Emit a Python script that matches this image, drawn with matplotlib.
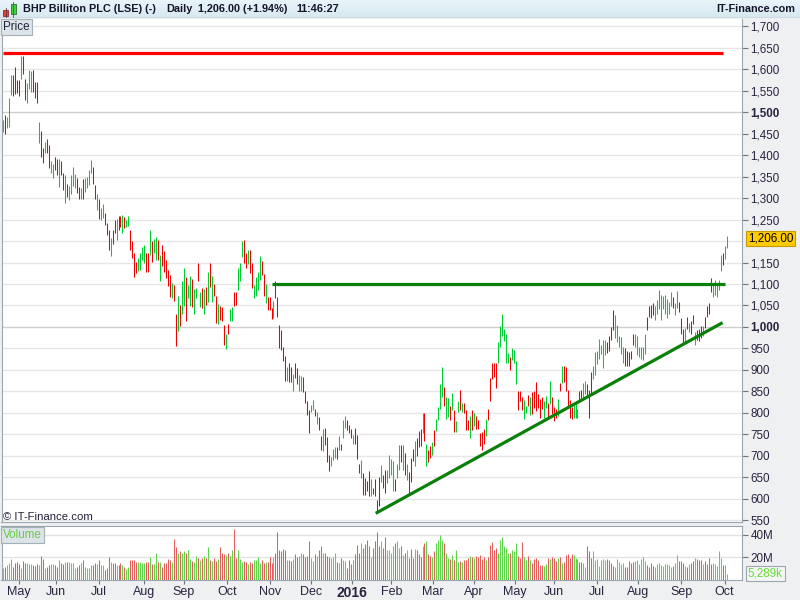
"""
BHP Billiton PLC (LSE) daily bar chart, Apr 2015 - Oct 2016, with volume
panel and three hand-drawn support/resistance lines (IT-Finance style).
"""

import numpy as np
import pandas as pd
import matplotlib
matplotlib.use("Agg")
import matplotlib.pyplot as plt
from matplotlib.patches import Rectangle

W, H = 800, 600
plt.rcParams["font.family"] = ["Liberation Sans", "DejaVu Sans"]

# ---- data -------------------------------------------------------------------
# daily bar high / low (pence) and direction (g = up bar, r = down bar)
HIGH = [
    1483, 1493, 1488, 1532, 1586, 1586, 1605, 1574, 1576, 1630,
    1632, 1578, 1567, 1598, 1596, 1598, 1570, 1570, 1478, 1457,
    1416, 1431, 1438, 1423, 1387, 1379, 1396, 1391, 1391, 1387,
    1358, 1354, 1333, 1328, 1354, 1373, 1356, 1346, 1327, 1323,
    1344, 1346, 1350, 1365, 1389, 1373, 1330, 1310, 1299, 1278,
    1286, 1266, 1241, 1225, 1207, 1226, 1249, 1251, 1259, 1259,
    1261, 1257, 1249, 1259, 1226, 1199, 1173, 1152, 1160, 1172,
    1187, 1191, 1172, 1172, 1226, 1199, 1204, 1209, 1203, 1168,
    1191, 1176, 1155, 1133, 1121, 1102, 1098, 1029, 1073, 1050,
    1108, 1137, 1116, 1098, 1119, 1111, 1088, 1090, 1150, 1081,
    1090, 1088, 1093, 1127, 1150, 1118, 1101, 1073, 1054, 1048,
    1046, 1005, 984, 1008, 1042, 1046, 1081, 1081, 1137, 1150,
    1199, 1203, 1172, 1178, 1178, 1149, 1098, 1116, 1127, 1166,
    1153, 1124, 1101, 1070, 1070, 1043, 1061, 1106, 1069, 1005,
    993, 954, 933, 906, 917, 906, 891, 917, 904, 889,
    885, 883, 852, 827, 806, 819, 829, 809, 803, 790,
    745, 762, 765, 744, 703, 697, 716, 721, 721, 745,
    728, 783, 793, 783, 772, 762, 749, 765, 749, 680,
    691, 659, 649, 641, 664, 647, 626, 647, 598, 651,
    678, 656, 668, 667, 703, 693, 688, 647, 680, 726,
    724, 726, 707, 680, 662, 695, 716, 734, 741, 757,
    762, 800, 800, 728, 714, 722, 731, 759, 786, 814,
    868, 906, 860, 836, 835, 817, 846, 806, 780, 827,
    854, 824, 824, 807, 784, 793, 806, 800, 793, 783,
    752, 755, 762, 786, 809, 881, 916, 917, 916, 966,
    1002, 1030, 995, 984, 940, 931, 950, 947, 920, 850,
    852, 837, 830, 817, 842, 838, 848, 852, 871, 845,
    832, 836, 828, 840, 824, 875, 838, 814, 809, 832,
    869, 910, 910, 906, 853, 830, 814, 819, 828, 809,
    852, 853, 869, 873, 866, 853, 894, 910, 941, 945,
    973, 959, 969, 969, 965, 978, 1000, 1039, 1027, 1004,
    980, 977, 953, 952, 944, 941, 944, 983, 983, 978,
    953, 953, 953, 983, 1022, 1048, 1050, 1055, 1048, 1062,
    1086, 1074, 1072, 1074, 1064, 1059, 1082, 1070, 1055, 1084,
    1059, 1020, 996, 998, 1022, 1009, 1014, 1027, 988, 992,
    996, 1002, 1002, 1023, 1048, 1055, 1113, 1098, 1109, 1098,
    1109, 1168, 1173, 1189, 1211,
]
LOW = [
    1454, 1449, 1464, 1466, 1539, 1537, 1543, 1545, 1537, 1578,
    1590, 1528, 1522, 1553, 1547, 1547, 1534, 1522, 1429, 1396,
    1382, 1404, 1404, 1369, 1359, 1346, 1365, 1354, 1327, 1354,
    1320, 1289, 1303, 1296, 1310, 1328, 1323, 1313, 1299, 1299,
    1299, 1315, 1323, 1330, 1358, 1333, 1299, 1272, 1251, 1249,
    1253, 1238, 1214, 1178, 1166, 1193, 1218, 1203, 1226, 1233,
    1218, 1230, 1233, 1234, 1178, 1160, 1116, 1125, 1131, 1133,
    1156, 1150, 1129, 1129, 1168, 1152, 1172, 1156, 1156, 1106,
    1141, 1129, 1114, 1095, 1070, 1068, 1060, 955, 990, 1002,
    1029, 1048, 1015, 1067, 1048, 1046, 1031, 1067, 1106, 1046,
    1044, 1031, 1050, 1058, 1093, 1058, 1073, 1009, 1008, 1017,
    1015, 957, 949, 983, 1015, 1013, 1048, 1052, 1087, 1108,
    1164, 1150, 1137, 1147, 1125, 1091, 1068, 1073, 1087, 1110,
    1122, 1071, 1056, 1039, 1039, 1018, 1020, 1067, 1022, 950,
    947, 920, 875, 873, 871, 871, 850, 881, 868, 850,
    850, 848, 824, 796, 752, 801, 806, 793, 775, 759,
    713, 711, 726, 685, 664, 677, 691, 695, 693, 713,
    714, 742, 765, 761, 753, 742, 728, 728, 693, 659,
    649, 608, 608, 618, 606, 606, 610, 606, 567, 584,
    639, 626, 614, 636, 649, 656, 618, 618, 649, 667,
    685, 667, 655, 644, 614, 639, 688, 676, 699, 721,
    722, 752, 734, 677, 685, 695, 703, 722, 758, 783,
    809, 838, 815, 786, 791, 783, 806, 755, 755, 801,
    807, 801, 800, 759, 759, 742, 759, 769, 762, 762,
    722, 713, 728, 747, 783, 827, 879, 883, 858, 917,
    953, 978, 968, 917, 916, 900, 923, 917, 866, 806,
    827, 807, 786, 800, 815, 796, 797, 811, 805, 812,
    789, 809, 789, 812, 789, 820, 797, 781, 788, 793,
    850, 869, 871, 852, 812, 788, 785, 789, 788, 789,
    828, 834, 836, 844, 840, 789, 844, 879, 887, 914,
    926, 937, 905, 934, 939, 945, 969, 992, 975, 965,
    953, 936, 916, 908, 910, 910, 926, 957, 953, 934,
    931, 926, 923, 937, 994, 1022, 1020, 1027, 1017, 1031,
    1041, 1016, 1041, 1031, 1020, 1031, 1048, 1045, 1027, 1045,
    1035, 984, 961, 965, 996, 988, 984, 1008, 959, 969,
    967, 975, 978, 998, 1023, 1030, 1082, 1070, 1074, 1069,
    1086, 1131, 1145, 1158, 1184,
]
DIRECTION = (
    "grgggrrrrg" "rrgggrrrgr" "rgrrggrrgr" "rgrggggrrg" "rggggrrgrg"
    "grrrgrrgrr" "grggrrrrgg" "ggrrgrggrg" "rrrrrgrrgr" "ggrggrggrg"
    "rgrgrgrrgr" "rrgrggrrgg" "grrgrrgggg" "rrgrrrgrrr" "rrrgrrgrrg"
    "grrrrggrgr" "rgrrrgggrg" "rggrrrgrrr" "grrrrgrrrr" "grrggggrgg"
    "rgrgrrrgrr" "rgrgrrgrgg" "ggrggrgrgg" "rgrrrgrgrr" "rrrgrrrrrg"
    "gggggrgggr" "rrggrgrrrr" "rrggrgrrrg" "rgrrrrrggg" "rrggrrrggg"
    "ggggrrrrgg" "gggrrrrrgg" "ggggrrrrgg" "gggggggrgg" "rrrgrgrrgr"
    "rrgrrrrggg" "ggrgggrrgr" "ggggg"
)
# daily volume, millions of shares (last bar is the intraday 5,289k)
VOLUME_M = [
    10.0, 11.5, 13.0, 14.5, 18.2, 11.5, 14.5, 16.1, 13.9, 10.0,
    16.7, 15.2, 14.5, 13.9, 13.9, 13.0, 12.1, 13.6, 13.0, 21.2,
    18.2, 10.0, 11.5, 13.0, 13.9, 13.6, 13.0, 11.5, 17.6, 14.5,
    13.9, 16.1, 16.1, 16.1, 15.2, 14.5, 10.0, 11.5, 13.0, 14.5,
    17.6, 11.5, 10.0, 10.6, 13.0, 13.0, 14.5, 13.9, 17.6, 13.0,
    13.0, 8.5, 10.0, 20.0, 16.1, 14.5, 14.5, 13.0, 13.0, 14.5,
    13.0, 11.5, 9.1, 11.5, 17.6, 17.6, 17.6, 16.1, 16.1, 16.1,
    15.2, 15.2, 16.1, 16.1, 20.0, 13.9, 13.9, 23.6, 16.1, 16.1,
    11.5, 14.5, 14.5, 18.2, 17.6, 16.1, 36.4, 29.1, 24.2, 25.2,
    23.6, 25.2, 23.6, 26.1, 18.2, 17.0, 16.1, 21.2, 19.1, 17.6,
    19.1, 21.2, 19.1, 29.1, 17.6, 17.0, 19.1, 17.0, 18.2, 29.1,
    24.2, 23.0, 22.1, 23.6, 21.2, 26.7, 45.5, 19.1, 26.7, 18.2,
    16.1, 17.0, 16.1, 13.9, 16.1, 14.5, 17.6, 17.6, 20.6, 14.5,
    17.6, 15.2, 16.1, 16.1, 20.6, 15.2, 20.0, 23.6, 42.4, 26.1,
    25.2, 27.3, 26.1, 17.6, 17.6, 17.0, 18.2, 23.0, 20.0, 21.2,
    24.2, 23.0, 20.0, 21.2, 34.2, 19.1, 17.0, 23.0, 21.2, 26.1,
    29.7, 23.6, 23.6, 21.2, 20.0, 19.1, 20.0, 23.6, 16.1, 14.5,
    19.1, 17.6, 17.0, 10.0, 17.6, 13.9, 17.6, 23.0, 31.2, 23.6,
    32.7, 28.2, 32.1, 35.2, 29.7, 20.6, 28.2, 34.2, 42.4, 29.7,
    34.2, 28.2, 38.2, 26.1, 26.7, 23.6, 29.7, 32.7, 34.2, 28.0,
    29.7, 22.1, 23.6, 26.7, 19.1, 27.3, 19.1, 27.3, 26.7, 23.0,
    20.0, 29.7, 32.7, 34.2, 23.0, 21.2, 20.6, 25.2, 32.7, 35.2,
    40.3, 35.8, 32.7, 24.2, 19.1, 18.2, 22.1, 17.6, 26.1, 16.1,
    17.0, 16.1, 17.6, 17.6, 19.1, 21.2, 20.0, 19.1, 21.2, 20.6,
    22.1, 18.2, 20.6, 17.6, 20.6, 31.2, 33.3, 26.7, 28.2, 23.6,
    35.2, 38.2, 29.7, 28.2, 23.6, 23.6, 26.7, 25.2, 32.7, 21.2,
    19.1, 33.3, 20.0, 17.6, 21.2, 17.6, 14.5, 18.2, 19.1, 17.6,
    13.0, 13.0, 12.1, 13.9, 19.1, 18.2, 20.6, 19.1, 17.0, 19.1,
    20.6, 14.5, 16.1, 22.1, 23.0, 19.1, 23.0, 22.1, 19.1, 18.2,
    16.1, 16.1, 14.5, 11.5, 29.7, 25.2, 19.1, 25.2, 17.6, 18.2,
    12.1, 17.6, 18.2, 17.6, 18.2, 17.6, 14.5, 12.1, 11.5, 18.2,
    16.1, 13.9, 15.2, 11.5, 11.5, 17.0, 14.5, 16.1, 17.0, 17.6,
    13.9, 18.2, 20.6, 17.0, 13.0, 11.5, 14.5, 12.1, 11.5, 13.9,
    15.2, 13.0, 12.1, 13.9, 13.9, 13.0, 11.5, 12.1, 14.5, 22.1,
    17.0, 17.0, 14.5, 12.1, 11.5, 13.9, 14.5, 17.0, 19.1, 18.2,
    17.6, 17.6, 13.9, 17.0, 13.9, 19.1, 13.9, 14.5, 13.9, 12.1,
    25.2, 19.1, 13.0, 13.0, 5.289,
]

# trading calendar covered by the chart (LSE, UK bank holidays removed)
FIRST_DAY, LAST_DAY = "2015-04-21", "2016-10-04"
UK_HOLIDAYS = ["2015-05-04", "2015-05-25", "2015-08-31", "2015-12-25",
               "2015-12-28", "2016-01-01", "2016-03-25", "2016-03-28",
               "2016-05-02", "2016-05-30", "2016-08-29"]

# drawn lines: (start date, end date, start price, end price)
RESISTANCE_RED = ("2015-04-21", "2016-09-30", 1637, 1637)
RESISTANCE_GREEN = ("2015-11-03", "2016-10-03", 1100, 1100)
SUPPORT_TREND = ("2016-01-20", "2016-09-30", 566, 1010)

LAST_PRICE = 1206.00
LAST_VOLUME_K = 5289

UP_BAR, DOWN_BAR = "#00cc33", "#ee0000"
UP_VOL, DOWN_VOL = "#5fd34a", "#e35d5d"
LINE_GREEN = "#0a7f0a"
TICK_COLOR = "#2a2340"
FRAME = "#9aa7b0"
BAR_LW = 0.75   # about one pixel at 100 dpi


def fx(px):
    return px / W


def fy(py):
    return 1 - py / H


def main():
    cal = pd.bdate_range(FIRST_DAY, LAST_DAY)
    cal = cal.drop(pd.to_datetime(UK_HOLIDAYS))
    n = len(HIGH)
    xs = np.linspace(0, len(cal) - 1, n)
    high = np.array(HIGH, float)
    low = np.array(LOW, float)
    up = np.array([c == "g" for c in DIRECTION[:n]])
    vol = np.array(VOLUME_M[:n]) * 1e6

    month_idx = [i for i in range(1, len(cal)) if cal[i].month != cal[i - 1].month]
    month_lab = ["2016" if cal[i].month == 1 else cal[i].strftime("%b")
                 for i in month_idx]

    fig = plt.figure(figsize=(W / 100, H / 100), dpi=100, facecolor="#eef0f1")
    xlim = (-0.9, 376.9)

    # header band with a soft blue gradient
    hax = fig.add_axes([0, fy(18), 1, 18 / H])
    grad = np.linspace(0, 1, 32)[:, None]
    top, bot = np.array([0.91, 0.96, 0.98]), np.array([0.84, 0.91, 0.94])
    hax.imshow(top + (bot - top) * grad[..., None], aspect="auto",
               extent=(0, W, 18, 0))
    hax.set_xlim(0, W)
    hax.set_ylim(18, 0)
    hax.axis("off")
    hax.axhline(17.5, color=FRAME, lw=1)
    # little candle icon
    hax.add_patch(Rectangle((3, 10), 5, 6, fc="#e04040", ec="#803030", lw=0.6))
    hax.plot([5.5, 5.5], [8, 17], color="#803030", lw=0.6)
    hax.add_patch(Rectangle((10.5, 4), 5, 10, fc="#40d040", ec="#307030", lw=0.6))
    hax.plot([13, 13], [2, 17], color="#307030", lw=0.6)
    hdr = dict(fontsize=7.8, fontweight="bold", color="#14142a", va="center")
    hax.text(23, 9.5, "BHP Billiton PLC (LSE) (-)", **hdr)
    hax.text(166, 9.5, "Daily", **hdr)
    hax.text(198, 9.5, f"{LAST_PRICE:,.2f} (+1.94%)", **hdr)
    hax.text(296, 9.5, "11:46:27", **hdr)
    hax.text(795, 9.5, "IT-Finance.com", ha="right", **hdr)

    # ---- price panel ----------------------------------------------------
    ax = fig.add_axes([fx(1.5), fy(521.5), fx(742) - fx(1.5), fy(19) - fy(521.5)])
    ax.set_facecolor("white")
    ax.set_xlim(*xlim)
    ax.set_ylim(547, 1717)
    grid = list(range(550, 1701, 50))
    for y in grid:
        ax.axhline(y, color="#cfcfcf" if y in (1000, 1500) else "#e6e6e6",
                   lw=1, zorder=0)
    # the 1,200 label sits under the last-price flag, so it is not shown
    yt = [y for y in grid if y != 1200]
    ax.yaxis.tick_right()
    ax.set_yticks(yt)
    ax.set_yticklabels([f"{y:,}" for y in yt])
    for lab, y in zip(ax.get_yticklabels(), yt):
        if y in (1000, 1500):
            lab.set_fontweight("bold")
            lab.set_fontsize(9.2)
    ax.tick_params(axis="y", length=4, width=0.8, color="#6a7880", pad=2,
                   labelsize=8.4, labelcolor=TICK_COLOR)
    ax.tick_params(axis="x", bottom=False, labelbottom=False)
    ax.spines["top"].set_visible(False)
    for side in ("left", "right", "bottom"):
        ax.spines[side].set_color(FRAME)

    ax.vlines(xs[up], low[up], high[up], colors=UP_BAR, linewidths=BAR_LW,
              antialiased=True, snap=True, zorder=3)
    ax.vlines(xs[~up], low[~up], high[~up], colors=DOWN_BAR, linewidths=BAR_LW,
              antialiased=True, snap=True, zorder=3)

    for (d0, d1, p0, p1), col in ((RESISTANCE_RED, "#ff0000"),
                                  (RESISTANCE_GREEN, LINE_GREEN),
                                  (SUPPORT_TREND, LINE_GREEN)):
        i0, i1 = cal.get_loc(pd.Timestamp(d0)), cal.get_loc(pd.Timestamp(d1))
        ax.plot([i0, i1], [p0, p1], color=col, lw=2.3, solid_capstyle="butt",
                zorder=4)

    # current price flag
    ax.text(1.008, LAST_PRICE, f"{LAST_PRICE:,.2f}",
            transform=ax.get_yaxis_transform(), fontsize=8.4, color="black",
            va="center", ha="left",
            bbox=dict(boxstyle="square,pad=0.15", fc="#ffcc00", ec="#c89a00", lw=0.8))

    # panel labels
    fig.text(fx(3), fy(27), "Price", fontsize=8.4, color="#22223a", va="center",
             bbox=dict(boxstyle="square,pad=0.2", fc="#dde4e9", ec="#a4b0b8", lw=0.8))
    fig.text(fx(3), fy(517), "© IT-Finance.com", fontsize=8.2, color="#22223a",
             va="center")

    # ---- volume panel ---------------------------------------------------
    vax = fig.add_axes([fx(1.5), fy(579.5), fx(742) - fx(1.5), fy(526) - fy(579.5)])
    vax.set_facecolor("white")
    vax.set_xlim(*xlim)
    vax.set_ylim(0, 48e6)
    for y in (20e6, 40e6):
        vax.axhline(y, color="#e3e3e3", lw=1, zorder=0)
    vax.vlines(xs[up], 0, vol[up], colors=UP_VOL, linewidths=BAR_LW,
               antialiased=True, snap=True, zorder=2)
    vax.vlines(xs[~up], 0, vol[~up], colors=DOWN_VOL, linewidths=BAR_LW,
               antialiased=True, snap=True, zorder=2)
    vax.yaxis.tick_right()
    vax.set_yticks([20e6, 40e6])
    vax.set_yticklabels(["20M", "40M"])
    vax.tick_params(axis="y", length=4, width=0.8, color="#6a7880", pad=2,
                    labelsize=8.4, labelcolor=TICK_COLOR)
    vax.set_xticks(month_idx)
    vax.set_xticklabels(month_lab)
    vax.tick_params(axis="x", length=3, width=0.8, color="#6a7880", pad=2,
                    labelsize=9, labelcolor=TICK_COLOR)
    for lab in vax.get_xticklabels():
        if lab.get_text() == "2016":
            lab.set_fontweight("bold")
            lab.set_fontsize(10)
    for side in vax.spines.values():
        side.set_color(FRAME)
    vax.text(1.008, LAST_VOLUME_K * 1e3, f"{LAST_VOLUME_K:,}k",
             transform=vax.get_yaxis_transform(), fontsize=8.4, color="#66dd33",
             va="center", ha="left",
             bbox=dict(boxstyle="square,pad=0.15", fc="#f4f6f6", ec="#9aa7b0", lw=0.8))
    vax.text(0.002, 0.83, "Volume", transform=vax.transAxes, fontsize=8.4,
             color="#66cc44", va="center",
             bbox=dict(boxstyle="square,pad=0.2", fc="#dde4e9", ec="#a4b0b8", lw=0.8))

    fig.savefig("out.png", dpi=100, facecolor=fig.get_facecolor())
    plt.close(fig)


if __name__ == "__main__":
    main()
